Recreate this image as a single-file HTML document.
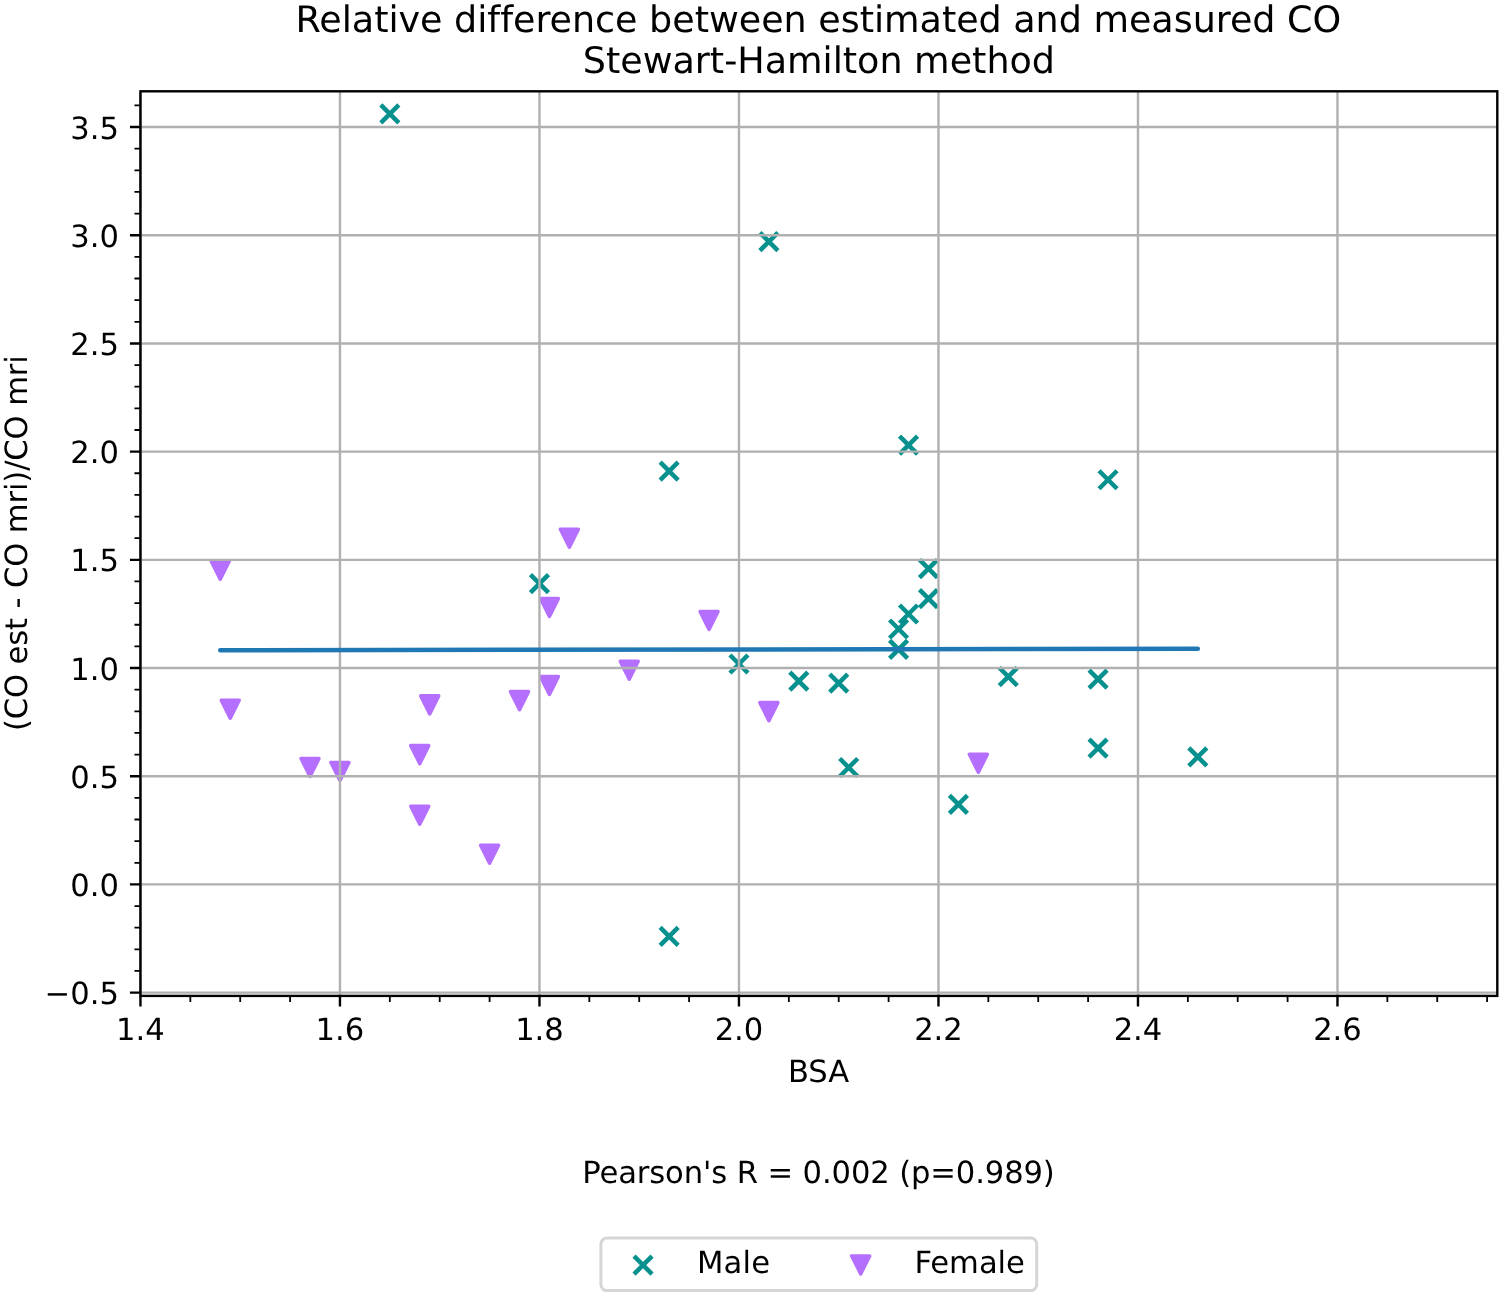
<!DOCTYPE html><html><head><meta charset="utf-8"><title>Relative difference between estimated and measured CO</title>
<style>html,body{margin:0;padding:0;background:#fff;}svg{display:block;}text{font-family:"DejaVu Sans","Liberation Sans",sans-serif;fill:#000;font-variant-ligatures:none;font-feature-settings:"liga" 0,"clig" 0;font-kerning:normal;text-rendering:geometricPrecision;}</style></head><body>
<svg width="1501" height="1297" viewBox="0 0 1501 1297">
<rect x="0" y="0" width="1501" height="1297" fill="#fff"/>
<g clip-path="url(#ax)">
<defs><clipPath id="ax"><rect x="140.45" y="91.3" width="1356.85" height="904.6"/></clipPath></defs>
<path d="M380.83 104.95L398.83 122.95M380.83 122.95L398.83 104.95M759.89 232.60L777.89 250.60M759.89 250.60L777.89 232.60M660.14 462.07L678.14 480.07M660.14 480.07L678.14 462.07M899.54 436.20L917.54 454.20M899.54 454.20L917.54 436.20M1099.04 470.74L1117.04 488.74M1099.04 488.74L1117.04 470.74M530.46 574.60L548.46 592.60M530.46 592.60L548.46 574.60M919.49 559.60L937.49 577.60M919.49 577.60L937.49 559.60M919.49 589.65L937.49 607.65M919.49 607.65L937.49 589.65M899.54 605.00L917.54 623.00M899.54 623.00L917.54 605.00M889.57 620.00L907.57 638.00M889.57 638.00L907.57 620.00M889.57 640.45L907.57 658.45M889.57 658.45L907.57 640.45M729.96 655.00L747.96 673.00M729.96 673.00L747.96 655.00M789.81 672.10L807.81 690.10M789.81 690.10L807.81 672.10M829.71 674.20L847.71 692.20M829.71 692.20L847.71 674.20M999.29 667.70L1017.29 685.70M999.29 685.70L1017.29 667.70M1089.07 670.15L1107.07 688.15M1089.07 688.15L1107.07 670.15M1089.07 739.10L1107.07 757.10M1089.07 757.10L1107.07 739.10M1188.82 747.90L1206.82 765.90M1188.82 765.90L1206.82 747.90M839.69 758.50L857.69 776.50M839.69 776.50L857.69 758.50M949.42 795.40L967.42 813.40M949.42 813.40L967.42 795.40M660.14 927.40L678.14 945.40M660.14 945.40L678.14 927.40" fill="none" stroke="#06918e" stroke-width="4.5" stroke-linecap="butt"/>
<path d="M220.25 579.25L211.25 561.25L229.25 561.25Z" fill="#b46fff" stroke="#b46fff" stroke-width="3.5" stroke-linejoin="round"/>
<path d="M230.23 718.20L221.23 700.20L239.23 700.20Z" fill="#b46fff" stroke="#b46fff" stroke-width="3.5" stroke-linejoin="round"/>
<path d="M310.03 776.45L301.03 758.45L319.03 758.45Z" fill="#b46fff" stroke="#b46fff" stroke-width="3.5" stroke-linejoin="round"/>
<path d="M339.95 780.40L330.95 762.40L348.95 762.40Z" fill="#b46fff" stroke="#b46fff" stroke-width="3.5" stroke-linejoin="round"/>
<path d="M419.76 763.60L410.76 745.60L428.76 745.60Z" fill="#b46fff" stroke="#b46fff" stroke-width="3.5" stroke-linejoin="round"/>
<path d="M429.73 713.85L420.73 695.85L438.73 695.85Z" fill="#b46fff" stroke="#b46fff" stroke-width="3.5" stroke-linejoin="round"/>
<path d="M419.76 824.20L410.76 806.20L428.76 806.20Z" fill="#b46fff" stroke="#b46fff" stroke-width="3.5" stroke-linejoin="round"/>
<path d="M489.58 863.20L480.58 845.20L498.58 845.20Z" fill="#b46fff" stroke="#b46fff" stroke-width="3.5" stroke-linejoin="round"/>
<path d="M519.51 709.60L510.51 691.60L528.51 691.60Z" fill="#b46fff" stroke="#b46fff" stroke-width="3.5" stroke-linejoin="round"/>
<path d="M549.43 616.40L540.43 598.40L558.43 598.40Z" fill="#b46fff" stroke="#b46fff" stroke-width="3.5" stroke-linejoin="round"/>
<path d="M549.43 694.40L540.43 676.40L558.43 676.40Z" fill="#b46fff" stroke="#b46fff" stroke-width="3.5" stroke-linejoin="round"/>
<path d="M569.38 547.15L560.38 529.15L578.38 529.15Z" fill="#b46fff" stroke="#b46fff" stroke-width="3.5" stroke-linejoin="round"/>
<path d="M629.23 679.25L620.23 661.25L638.23 661.25Z" fill="#b46fff" stroke="#b46fff" stroke-width="3.5" stroke-linejoin="round"/>
<path d="M709.04 629.50L700.04 611.50L718.04 611.50Z" fill="#b46fff" stroke="#b46fff" stroke-width="3.5" stroke-linejoin="round"/>
<path d="M768.89 720.60L759.89 702.60L777.89 702.60Z" fill="#b46fff" stroke="#b46fff" stroke-width="3.5" stroke-linejoin="round"/>
<path d="M978.37 772.30L969.37 754.30L987.37 754.30Z" fill="#b46fff" stroke="#b46fff" stroke-width="3.5" stroke-linejoin="round"/>
</g>
<path d="M140.45 91.3V995.9M339.95 91.3V995.9M539.46 91.3V995.9M738.96 91.3V995.9M938.47 91.3V995.9M1137.97 91.3V995.9M1337.47 91.3V995.9M140.45 992.61H1497.3M140.45 884.41H1497.3M140.45 776.22H1497.3M140.45 668.02H1497.3M140.45 559.83H1497.3M140.45 451.63H1497.3M140.45 343.44H1497.3M140.45 235.25H1497.3M140.45 127.05H1497.3" stroke="#b0b0b0" stroke-width="2.4" fill="none"/>
<path d="M140.45 995.9v10.5M339.95 995.9v10.5M539.46 995.9v10.5M738.96 995.9v10.5M938.47 995.9v10.5M1137.97 995.9v10.5M1337.47 995.9v10.5M140.45 992.61h-10.5M140.45 884.41h-10.5M140.45 776.22h-10.5M140.45 668.02h-10.5M140.45 559.83h-10.5M140.45 451.63h-10.5M140.45 343.44h-10.5M140.45 235.25h-10.5M140.45 127.05h-10.5" stroke="#000" stroke-width="2.4" fill="none"/>
<path d="M190.33 995.9v6M240.20 995.9v6M290.08 995.9v6M389.83 995.9v6M439.71 995.9v6M489.58 995.9v6M589.33 995.9v6M639.21 995.9v6M689.09 995.9v6M788.84 995.9v6M838.71 995.9v6M888.59 995.9v6M988.34 995.9v6M1038.22 995.9v6M1088.09 995.9v6M1187.85 995.9v6M1237.72 995.9v6M1287.60 995.9v6M1387.35 995.9v6M1437.23 995.9v6M1487.10 995.9v6M140.45 970.97h-6M140.45 949.33h-6M140.45 927.69h-6M140.45 906.05h-6M140.45 862.78h-6M140.45 841.14h-6M140.45 819.50h-6M140.45 797.86h-6M140.45 754.58h-6M140.45 732.94h-6M140.45 711.30h-6M140.45 689.66h-6M140.45 646.39h-6M140.45 624.75h-6M140.45 603.11h-6M140.45 581.47h-6M140.45 538.19h-6M140.45 516.55h-6M140.45 494.91h-6M140.45 473.27h-6M140.45 430.00h-6M140.45 408.36h-6M140.45 386.72h-6M140.45 365.08h-6M140.45 321.80h-6M140.45 300.16h-6M140.45 278.52h-6M140.45 256.88h-6M140.45 213.61h-6M140.45 191.97h-6M140.45 170.33h-6M140.45 148.69h-6M140.45 105.41h-6" stroke="#000" stroke-width="1.8" fill="none"/>
<path d="M220.25 650.3L1197.82 648.85" stroke="#1f77b4" stroke-width="4.5" stroke-linecap="round" fill="none"/>
<rect x="140.45" y="91.3" width="1356.85" height="904.60" fill="none" stroke="#000" stroke-width="2.4" stroke-linejoin="miter"/>
<text x="140.45" y="1039.8" font-size="30.6" text-anchor="middle">1.4</text>
<text x="339.95" y="1039.8" font-size="30.6" text-anchor="middle">1.6</text>
<text x="539.46" y="1039.8" font-size="30.6" text-anchor="middle">1.8</text>
<text x="738.96" y="1039.8" font-size="30.6" text-anchor="middle">2.0</text>
<text x="938.47" y="1039.8" font-size="30.6" text-anchor="middle">2.2</text>
<text x="1137.97" y="1039.8" font-size="30.6" text-anchor="middle">2.4</text>
<text x="1337.47" y="1039.8" font-size="30.6" text-anchor="middle">2.6</text>
<text x="118.9" y="1004.21" font-size="30.6" text-anchor="end">−0.5</text>
<text x="118.9" y="896.01" font-size="30.6" text-anchor="end">0.0</text>
<text x="118.9" y="787.82" font-size="30.6" text-anchor="end">0.5</text>
<text x="118.9" y="679.62" font-size="30.6" text-anchor="end">1.0</text>
<text x="118.9" y="571.43" font-size="30.6" text-anchor="end">1.5</text>
<text x="118.9" y="463.24" font-size="30.6" text-anchor="end">2.0</text>
<text x="118.9" y="355.04" font-size="30.6" text-anchor="end">2.5</text>
<text x="118.9" y="246.84" font-size="30.6" text-anchor="end">3.0</text>
<text x="118.9" y="138.65" font-size="30.6" text-anchor="end">3.5</text>
<text x="787.90" y="1081.80" font-size="30.6" textLength="61.19" lengthAdjust="spacing">BSA</text>
<text transform="translate(27.00,731.07) rotate(-90)" x="0" y="0" font-size="30.6" textLength="375.85" lengthAdjust="spacing">(CO est - CO mri)/CO mri</text>
<text x="295.62" y="32.30" font-size="36.5" textLength="1045.60" lengthAdjust="spacing">Relative difference between estimated and measured CO</text>
<text x="582.82" y="72.70" font-size="36.5" textLength="472.16" lengthAdjust="spacing">Stewart-Hamilton method</text>
<text x="582.22" y="1183.30" font-size="30.6" textLength="472.56" lengthAdjust="spacing">Pearson's R = 0.002 (p=0.989)</text>
<rect x="600.9" y="1238.1" width="435.8" height="52.5" rx="6" ry="6" fill="#fff" fill-opacity="0.8" stroke="#d6d6d6" stroke-width="3"/>
<path d="M634.05 1256.10L652.05 1274.10M634.05 1274.10L652.05 1256.10" fill="none" stroke="#06918e" stroke-width="4.5"/>
<path d="M860.70 1273.90L851.70 1255.90L869.70 1255.90Z" fill="#b46fff" stroke="#b46fff" stroke-width="3.5" stroke-linejoin="round"/>
<text x="696.90" y="1272.90" font-size="30.6" textLength="73.06" lengthAdjust="spacing">Male</text>
<text x="914.40" y="1272.70" font-size="30.6" textLength="110.50" lengthAdjust="spacing">Female</text>
</svg></body></html>
